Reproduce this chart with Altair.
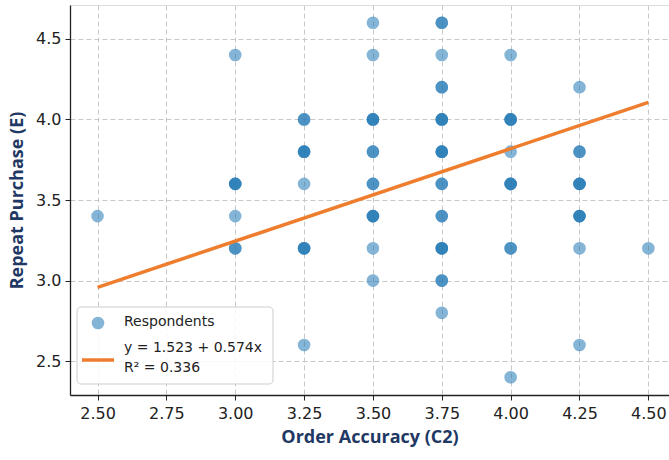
import altair as alt
import pandas as pd

# ---- data ----
x_vals = [2.50,
          3.00, 3.00, 3.00, 3.00,
          3.25, 3.25, 3.25, 3.25, 3.25,
          3.50, 3.50, 3.50, 3.50, 3.50, 3.50, 3.50, 3.50,
          3.75, 3.75, 3.75, 3.75, 3.75, 3.75, 3.75, 3.75, 3.75, 3.75,
          4.00, 4.00, 4.00, 4.00, 4.00, 4.00,
          4.25, 4.25, 4.25, 4.25, 4.25, 4.25,
          4.50]
y_vals = [3.4,
          4.4, 3.6, 3.4, 3.2,
          4.0, 3.8, 3.6, 3.2, 2.6,
          4.6, 4.4, 4.0, 3.8, 3.6, 3.4, 3.2, 3.0,
          4.6, 4.4, 4.2, 4.0, 3.8, 3.6, 3.4, 3.2, 3.0, 2.8,
          4.4, 4.0, 3.8, 3.6, 3.2, 2.4,
          4.2, 3.8, 3.6, 3.4, 3.2, 2.6,
          3.2]
counts = [1,
          1, 3, 1, 2,
          2, 3, 1, 3, 1,
          1, 1, 3, 2, 2, 3, 1, 1,
          2, 1, 2, 3, 3, 2, 2, 3, 2, 1,
          1, 3, 1, 3, 2, 1,
          1, 2, 3, 3, 1, 1,
          1]
intercept = [1.523]
slope = [0.574]
r_squared = [0.336]
x_ticks = [2.50, 2.75, 3.00, 3.25, 3.50, 3.75, 4.00, 4.25, 4.50]
y_ticks = [2.5, 3.0, 3.5, 4.0, 4.5]

rows = []
for xv, yv, c in zip(x_vals, y_vals, counts):
    for _ in range(c):
        rows.append({"x": xv, "y": yv})
pts = pd.DataFrame(rows)

xmin, xmax = min(x_vals), max(x_vals)
line_df = pd.DataFrame({
    "x": [xmin, xmax],
    "y": [intercept[0] + slope[0] * xmin, intercept[0] + slope[0] * xmax],
})

FONT = "DejaVu Sans"
TITLE_FONT = "Open Sans"
NAVY = "#1f3864"
BLUE = "#1f77b4"
ORANGE = "#ee7d2e"

xscale = alt.Scale(domain=[2.4, 4.575], nice=False, zero=False)
yscale = alt.Scale(domain=[2.29, 4.71], nice=False, zero=False)

xaxis = alt.Axis(values=x_ticks, format=".2f", title="Order Accuracy (C2)",
                 grid=True, gridColor="#c8c8c8", gridDash=[5, 3], gridWidth=1,
                 domainColor="#222", domainWidth=1.3, tickColor="#222", tickSize=5,
                 labelFont=FONT, labelFontSize=16, labelColor="#222", labelPadding=5,
                 titleFont=TITLE_FONT, titleFontSize=18, titleFontWeight="bold",
                 titleColor=NAVY, titlePadding=7)
yaxis = alt.Axis(values=y_ticks, format=".1f", title="Repeat Purchase (E)",
                 grid=True, gridColor="#c8c8c8", gridDash=[5, 3], gridWidth=1,
                 domainColor="#222", domainWidth=1.3, tickColor="#222", tickSize=5,
                 labelFont=FONT, labelFontSize=16, labelColor="#222", labelPadding=4,
                 titleFont=TITLE_FONT, titleFontSize=18, titleFontWeight="bold",
                 titleColor=NAVY, titlePadding=9)

points = alt.Chart(pts).mark_circle(size=160, color=BLUE, opacity=0.55).encode(
    x=alt.X("x:Q", scale=xscale, axis=xaxis),
    y=alt.Y("y:Q", scale=yscale, axis=yaxis),
)

fit = alt.Chart(line_df).mark_line(color=ORANGE, strokeWidth=3.5).encode(
    x=alt.X("x:Q", scale=xscale),
    y=alt.Y("y:Q", scale=yscale),
)

one = pd.DataFrame({"a": [0]})
legend_box = alt.Chart(one).mark_rect(
    fill="white", fillOpacity=0.85, stroke="#cccccc", strokeWidth=1, cornerRadius=4
).encode(x=alt.value(7), x2=alt.value(203), y=alt.value(302), y2=alt.value(379))
legend_dot = alt.Chart(one).mark_circle(size=160, color=BLUE, opacity=0.55).encode(
    x=alt.value(28), y=alt.value(318))
legend_line = alt.Chart(one).mark_rule(color=ORANGE, strokeWidth=3.5).encode(
    x=alt.value(12), x2=alt.value(44), y=alt.value(355))
eq_text = f"y = {intercept[0]:.3f} + {slope[0]:.3f}x"
r2_text = f"R² = {r_squared[0]:.3f}"
t1 = alt.Chart(one).mark_text(text="Respondents", font=FONT, fontSize=14, align="left",
                              baseline="middle", color="#222").encode(
    x=alt.value(54), y=alt.value(317))
t2 = alt.Chart(one).mark_text(text=eq_text, font=FONT, fontSize=14, align="left",
                              baseline="middle", color="#222").encode(
    x=alt.value(54), y=alt.value(343))
t3 = alt.Chart(one).mark_text(text=r2_text, font=FONT, fontSize=14, align="left",
                              baseline="middle", color="#222").encode(
    x=alt.value(54), y=alt.value(363))

chart = alt.layer(points, fit, legend_box, legend_dot, legend_line, t1, t2, t3).properties(
    width=599, height=390,
    autosize=alt.AutoSizeParams(type="none"),
    padding={"left": 70, "top": 5, "right": 0, "bottom": 65},
).configure_view(stroke=None).configure(background="white")

chart.save("out.html", embed_options={"renderer": "svg", "actions": False})
